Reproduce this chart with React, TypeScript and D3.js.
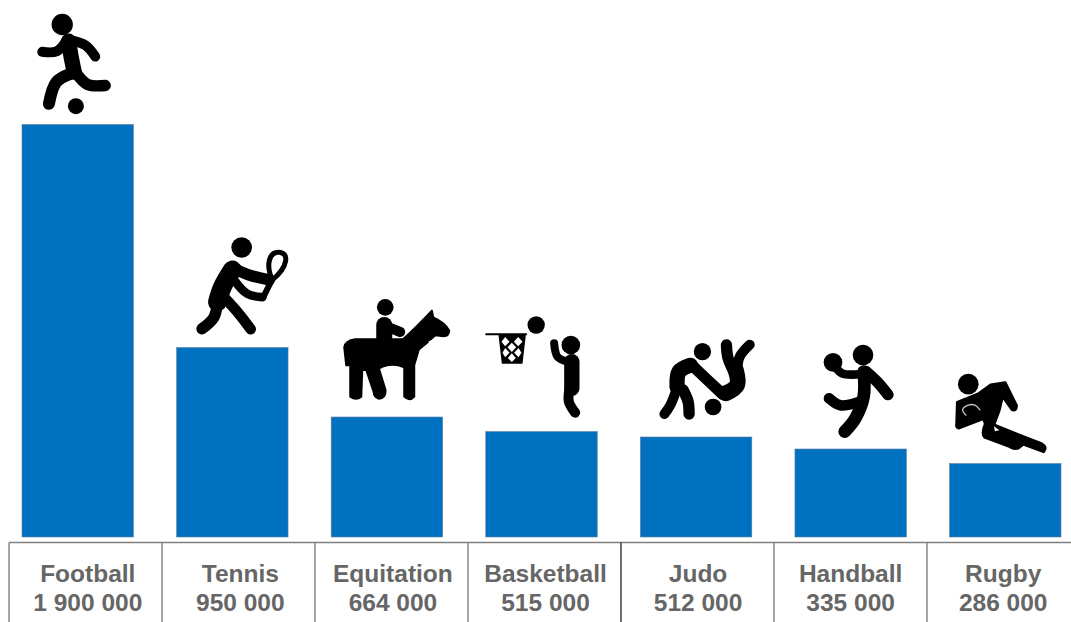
import React from "react";
import * as d3 from "d3";

const categories = ["Football", "Tennis", "Equitation", "Basketball", "Judo", "Handball", "Rugby"];
const values = [1900000, 950000, 664000, 515000, 512000, 335000, 286000];
const valueLabels = ["1 900 000", "950 000", "664 000", "515 000", "512 000", "335 000", "286 000"];
// The source's bars are not drawn to a linear scale: the scale's knots are read from the picture.
const scaleKnots = [0, 286000, 335000, 512000, 515000, 664000, 950000, 1900000];
const scaleLevels = [537, 463.5, 449, 437, 431.5, 417, 347.5, 124.5];

const BLUE = "#0070c0";
const GRID = "#7f7f7f";
const TEXT = "#666666";

const W = 1071;
const H = 622;

type Limb = { p: [number, number][]; w: number; color?: string };
type Icon = {
  anchor: [number, number];
  dots?: [number, number, number][];
  limbs?: Limb[];
  fills?: string[];
  fillStroke?: number;
  rawStrokes?: { d: string; w: number }[];
  whites?: string[];
  over?: Limb[];
};

// Pictograms, in a 3x local drawing unit; anchor = point that sits on the bar's top centre.
const icons: Icon[] = [
  {
    anchor: [232.5, 372],
    dots: [[186, 72, 32], [227, 317, 24]],
    limbs: [
      { p: [[205, 122], [212, 165], [222, 215]], w: 46 },
      { p: [[126, 154], [170, 152], [200, 118]], w: 30 },
      { p: [[205, 118], [255, 134], [285, 168]], w: 30 },
      { p: [[210, 220], [168, 245], [146, 310]], w: 36 },
      { p: [[228, 218], [262, 252], [315, 255]], w: 34 },
    ],
  },
  {
    anchor: [695, 1041],
    dots: [[723, 741, 31]],
    limbs: [
      { p: [[695, 808], [665, 860], [650, 905]], w: 56 },
      { p: [[695, 802], [750, 825], [806, 838]], w: 34 },
      { p: [[700, 838], [740, 880], [785, 890]], w: 26 },
      { p: [[650, 905], [640, 950], [604, 985]], w: 34 },
      { p: [[670, 890], [715, 940], [750, 986]], w: 32 },
      { p: [[815, 835], [788, 890]], w: 18 },
    ],
    rawStrokes: [{ d: "M815 838 C795 795 805 755 833 755 C868 755 862 800 815 838 Z", w: 15 }],
  },
  {
    anchor: [170, 381],
    dots: [[165, 52, 25]],
    limbs: [
      { p: [[162, 105], [162, 155]], w: 48 },
      { p: [[170, 110], [210, 126]], w: 30 },
    ],
    fills: [
      "M48 226 L42 172 Q45 152 75 148 L218 148 Q255 115 305 62 L309 82 Q345 98 357 122 Q356 138 340 139 L315 136 Q290 160 266 178 L252 225 L252 320 Q238 336 222 320 L222 232 Q180 215 146 236 L166 300 Q167 326 146 326 Q131 322 130 305 L108 240 L96 240 L93 320 Q78 333 60 320 L60 215 L62 178 L58 226 Z",
    ],
    fillStroke: 6,
    whites: ["M294 155 L316 144 L326 145 Q320 153 304 164 Z"],
  },
  {
    anchor: [634, 424.5],
    dots: [[618, 105, 26], [722, 165, 28]],
    limbs: [
      { p: [[468, 133], [588, 133]], w: 6 },
      { p: [[725, 215], [725, 295]], w: 46 },
      { p: [[672, 160], [682, 200], [712, 215]], w: 24 },
      { p: [[718, 295], [716, 335], [735, 368]], w: 30 },
    ],
    fills: ["M505 135 L587 135 L577 221 L515 221 Z"],
    whites: [
      "M525 141 L538 155 L525 169 L514 155 Z",
      "M564 141 L577 155 L564 169 L551 155 Z",
      "M545 158 L558 172 L545 186 L532 172 Z",
      "M525 174 L538 188 L525 202 L517 188 Z",
      "M565 174 L574 188 L565 202 L552 188 Z",
      "M545 190 L557 204 L545 216 L533 204 Z",
    ],
  },
  {
    anchor: [139, 321],
    dots: [[158, 65, 26], [190, 231, 25]],
    limbs: [
      { p: [[122, 106], [88, 125], [82, 170]], w: 46 },
      { p: [[125, 104], [170, 147], [218, 192]], w: 34 },
      { p: [[78, 185], [62, 225], [44, 252]], w: 30 },
      { p: [[100, 180], [115, 215], [118, 252]], w: 34 },
      { p: [[228, 190], [262, 165], [258, 120]], w: 48 },
      { p: [[230, 45], [235, 85], [255, 130]], w: 34 },
      { p: [[300, 44], [270, 80], [262, 125]], w: 30 },
    ],
  },
  {
    anchor: [601, 357],
    dots: [[638, 75, 31], [548, 97, 28]],
    limbs: [
      { p: [[552, 105], [575, 130], [635, 132]], w: 26 },
      { p: [[640, 125], [640, 200], [615, 265], [583, 305]], w: 38 },
      { p: [[648, 125], [680, 155], [713, 194]], w: 34 },
      { p: [[536, 205], [570, 226], [625, 216]], w: 32 },
    ],
  },
  {
    anchor: [1066, 399],
    dots: [[955, 161, 31]],
    fills: [
      "M922 215 L985 190 L1022 163 L1066 156 L1100 225 Q1100 243 1086 238 L1058 198 L1048 240 L1032 283 L1176 340 Q1193 350 1181 364 L1120 341 L1108 351 Q1095 359 1080 349 L1004 320 Q993 310 1006 280 L1000 265 L926 293 Q918 291 920 280 Z",
    ],
    fillStroke: 8,
    over: [
      { p: [[948, 254], [938, 238], [955, 224], [975, 224], [990, 238]], w: 4, color: "#c4c4c4" },
    ],
    whites: ["M1032 287 L1048 299 L1035 302 Z"],
  },
];

const line = d3
  .line<[number, number]>()
  .x((d) => d[0])
  .y((d) => d[1]);

const limbPath = (p: [number, number][]) =>
  (p.length > 2 ? line.curve(d3.curveCatmullRom) : line.curve(d3.curveLinear))(p) as string;

function Pictogram({ icon, cx, top }: { icon: Icon; cx: number; top: number }) {
  const drawLimb = (l: Limb, i: number) => (
    <path
      key={i}
      d={limbPath(l.p)}
      fill="none"
      stroke={l.color ?? "#000"}
      strokeWidth={l.w}
      strokeLinecap="round"
      strokeLinejoin="round"
    />
  );
  return (
    <g transform={`translate(${cx},${top}) scale(${1 / 3}) translate(${-icon.anchor[0]},${-icon.anchor[1]})`}>
      {(icon.limbs ?? []).map(drawLimb)}
      {(icon.rawStrokes ?? []).map((s, i) => (
        <path key={i} d={s.d} fill="none" stroke="#000" strokeWidth={s.w} strokeLinejoin="round" />
      ))}
      {(icon.fills ?? []).map((d, i) => (
        <path
          key={i}
          d={d}
          fill="#000"
          stroke="#000"
          strokeWidth={icon.fillStroke ?? 0}
          strokeLinejoin="round"
        />
      ))}
      {(icon.whites ?? []).map((d, i) => (
        <path key={i} d={d} fill="#fff" />
      ))}
      {(icon.dots ?? []).map(([x, y, r], i) => (
        <circle key={i} cx={x} cy={y} r={r} fill="#000" />
      ))}
      {(icon.over ?? []).map(drawLimb)}
    </g>
  );
}

export default function App() {
  const x = d3.scaleBand<string>().domain(categories).range([22, 1061]).paddingInner(0.279);
  const y = d3.scaleLinear().domain(scaleKnots).range(scaleLevels);
  const cells = d3.scaleBand<string>().domain(categories).range([9, 1080]);
  const labels = d3.scaleBand<string>().domain(categories).range([11.5, 1079.5]);

  return (
    <svg
      width={W}
      height={H}
      viewBox={`0 0 ${W} ${H}`}
      style={{ position: "absolute", left: 0, top: 0, background: "#fff" }}
    >
      {categories.map((c, i) => (
        <rect
          key={c}
          x={x(c)}
          y={y(values[i])}
          width={x.bandwidth()}
          height={y(0) - y(values[i])}
          fill={BLUE}
          stroke="#5f7f9f"
          strokeWidth={0.6}
        />
      ))}
      {categories.map((c, i) => (
        <Pictogram key={c} icon={icons[i]} cx={(x(c) as number) + x.bandwidth() / 2} top={y(values[i])} />
      ))}

      <line x1={9} x2={W} y1={542.5} y2={542.5} stroke={GRID} strokeWidth={1.5} />
      {categories.map((c, i) => (
        <line
          key={c}
          x1={cells(c)}
          x2={cells(c)}
          y1={542.5}
          y2={H}
          stroke={i === 4 ? "#333" : GRID}
          strokeWidth={1.4}
        />
      ))}
      {categories.map((c, i) => {
        const cx = (labels(c) as number) + labels.bandwidth() / 2;
        return (
          <g
            key={c}
            fontFamily="'Liberation Sans', Arial, sans-serif"
            fontWeight={700}
            fontSize={24.5}
            fill={TEXT}
            textAnchor="middle"
          >
            <text x={cx} y={582}>{c}</text>
            <text x={cx} y={611}>{valueLabels[i]}</text>
          </g>
        );
      })}
    </svg>
  );
}
